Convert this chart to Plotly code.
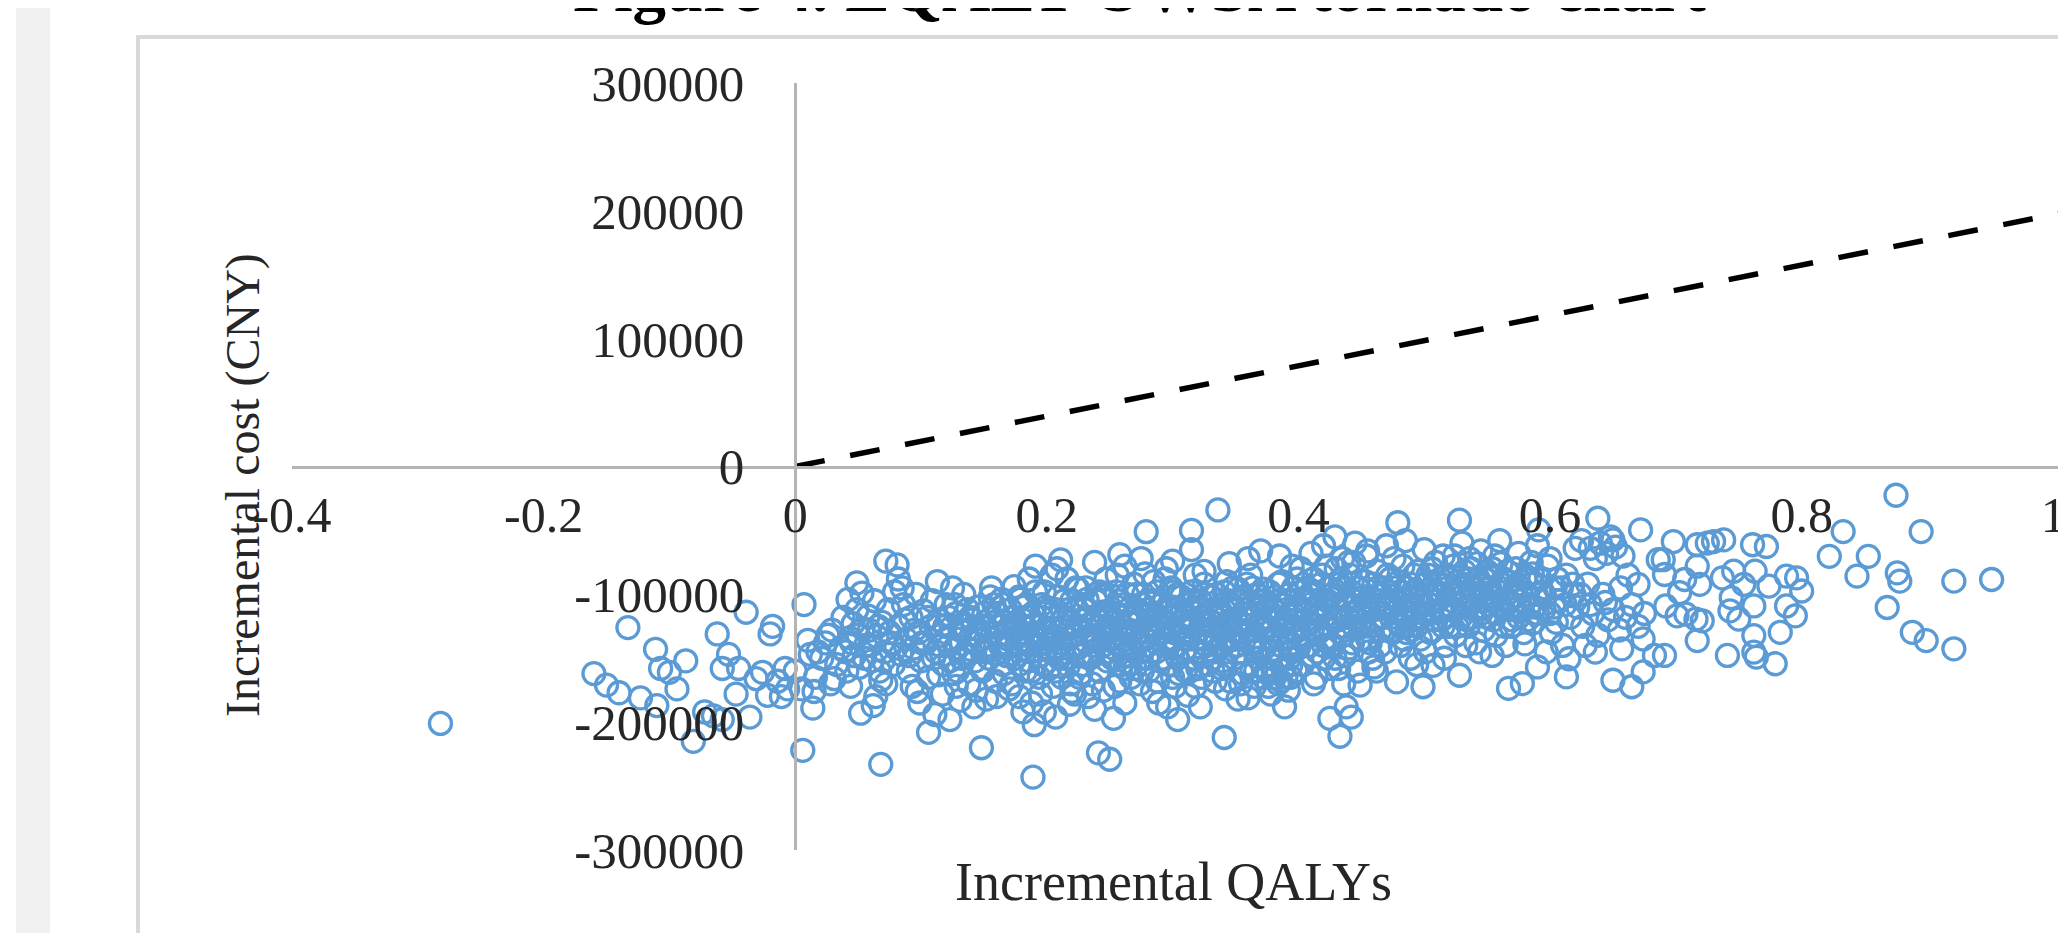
import plotly.graph_objects as go

# ---------------- data ----------------
x_tick_vals = [-0.4, -0.2, 0, 0.2, 0.4, 0.6, 0.8, 1.0]
x_tick_text = ["-0.4", "-0.2", "0", "0.2", "0.4", "0.6", "0.8", "1"]
y_tick_vals = [300000, 200000, 100000, 0, -100000, -200000, -300000]
y_tick_text = ["300000", "200000", "100000", "0", "-100000", "-200000", "-300000"]

# willingness-to-pay threshold line (about 197 000 CNY per QALY)
wtp_qaly = [0, 1.02]
wtp_cost = [0, 200940]

left_tail = [
    (-0.282, -201000), (-0.133, -126000), (-0.111, -143000), (-0.160, -162000), (-0.150, -171000),
    (-0.140, -177000), (-0.123, -181000), (-0.110, -187000), (-0.107, -158000), (-0.100, -161000),
    (-0.087, -152000), (-0.094, -174000), (-0.072, -192000), (-0.081, -215000), (-0.062, -131000),
    (-0.053, -147000), (-0.058, -158000), (-0.045, -158000), (-0.047, -178000), (-0.039, -114000),
    (-0.036, -196000), (-0.058, -198000), (-0.018, -125000), (-0.020, -131000), (-0.026, -161000),
    (-0.022, -179000), (-0.011, -180000), (-0.006, -174000), (-0.008, -158000), (-0.014, -168000),
    (-0.031, -166000), (-0.065, -195000),
]

near_zero = [
    (0.007, -108000), (0.072, -74000), (0.081, -77000), (0.049, -91000), (0.053, -99000),
    (0.042, -104000), (0.082, -88000), (0.113, -90000), (0.006, -222000), (0.068, -233000),
    (0.148, -220000), (0.189, -243000), (0.106, -208000), (0.111, -194000), (0.123, -198000),
    (0.052, -193000), (0.062, -187000), (0.014, -189000), (0.015, -176000), (0.190, -202000),
    (0.198, -192000), (0.207, -196000), (0.181, -192000), (0.191, -78000), (0.211, -73000),
    (0.174, -94000), (0.046, -123000), (0.031, -166000), (0.044, -172000), (0.000, -160000),
    (0.005, -174000), (0.026, -132000), (0.018, -145000), (0.068, -167000), (0.097, -176000),
    (0.114, -163000), (0.131, -183000), (0.170, -174000), (0.220, -176000),
    (0.021, -150000), (0.024, -138000), (0.029, -128000), (0.033, -155000), (0.036, -142000),
    (0.038, -118000), (0.041, -160000), (0.043, -134000), (0.047, -148000), (0.049, -112000),
    (0.051, -157000), (0.054, -127000), (0.012, -147000), (0.016, -165000), (0.010, -136000),
    (0.028, -170000),
    (0.056, -140000), (0.058, -117000), (0.061, -152000), (0.063, -105000), (0.065, -133000),
    (0.067, -160000), (0.069, -122000), (0.071, -145000), (0.074, -112000), (0.076, -138000),
    (0.078, -155000), (0.079, -98000), (0.059, -128000), (0.072, -170000), (0.064, -180000),
    (0.082, -125000), (0.084, -147000), (0.086, -108000), (0.088, -135000), (0.090, -160000),
    (0.092, -118000), (0.094, -142000), (0.096, -100000), (0.098, -130000), (0.100, -152000),
    (0.102, -113000), (0.104, -138000), (0.106, -165000), (0.108, -125000), (0.085, -95000),
    (0.093, -172000), (0.099, -185000), (0.109, -105000),
    (0.112, -145000), (0.114, -120000), (0.116, -132000), (0.118, -155000), (0.120, -108000),
    (0.122, -140000), (0.124, -126000), (0.126, -162000), (0.128, -115000), (0.130, -135000),
    (0.132, -150000), (0.134, -100000), (0.136, -128000), (0.138, -170000), (0.117, -178000),
    (0.125, -95000), (0.139, -143000),
]

low_core = [
    (0.141, -120000), (0.143, -152000), (0.145, -110000), (0.147, -136000), (0.149, -160000),
    (0.151, -125000), (0.153, -145000), (0.155, -102000), (0.157, -130000), (0.159, -168000),
    (0.161, -115000), (0.163, -140000), (0.165, -155000), (0.167, -122000), (0.169, -135000),
    (0.144, -175000), (0.156, -95000), (0.166, -108000), (0.152, -182000), (0.168, -148000),
    (0.171, -112000), (0.173, -128000), (0.175, -150000), (0.177, -138000), (0.179, -104000),
    (0.181, -120000), (0.183, -160000), (0.185, -132000), (0.187, -145000), (0.189, -115000),
    (0.191, -98000), (0.193, -140000), (0.195, -125000), (0.197, -155000), (0.199, -110000),
    (0.172, -170000), (0.186, -88000), (0.194, -165000), (0.178, -180000), (0.188, -185000),
    (0.184, -108000), (0.198, -135000),
    (0.201, -130000), (0.203, -145000), (0.205, -118000), (0.207, -160000), (0.209, -102000),
    (0.211, -138000), (0.213, -125000), (0.215, -150000), (0.217, -112000), (0.219, -170000),
    (0.221, -132000), (0.223, -95000), (0.225, -142000), (0.227, -120000), (0.229, -155000),
    (0.204, -85000), (0.216, -88000), (0.222, -178000), (0.212, -165000), (0.228, -108000),
    (0.208, -80000),
]

mid_core = [
    (0.336, -34000), (0.279, -51000), (0.315, -50000), (0.315, -65000), (0.258, -69000),
    (0.429, -55000), (0.241, -224000), (0.250, -229000), (0.253, -197000), (0.304, -198000),
    (0.341, -212000), (0.433, -211000), (0.425, -197000), (0.438, -188000), (0.442, -196000),
    (0.389, -188000), (0.289, -185000), (0.312, -179000), (0.233, -180000), (0.449, -171000),
    (0.360, -181000), (0.342, -174000),
    (0.238, -75000), (0.262, -78000), (0.275, -72000), (0.295, -80000), (0.300, -74000),
    (0.325, -82000), (0.345, -76000), (0.360, -72000), (0.370, -66000), (0.385, -70000),
    (0.395, -78000), (0.410, -68000), (0.420, -62000), (0.435, -72000), (0.445, -60000),
    (0.455, -66000), (0.430, -80000), (0.440, -75000),
    (0.231, -95000), (0.233, -118000), (0.235, -132000), (0.237, -148000), (0.239, -105000),
    (0.241, -160000), (0.243, -125000), (0.245, -140000), (0.247, -88000), (0.249, -113000),
    (0.236, -170000), (0.244, -100000), (0.248, -152000), (0.232, -138000),
    (0.251, -128000), (0.253, -142000), (0.255, -98000), (0.257, -117000), (0.259, -155000),
    (0.261, -108000), (0.263, -135000), (0.265, -122000), (0.267, -165000), (0.269, -92000),
    (0.254, -172000), (0.262, -148000), (0.268, -130000), (0.256, -85000),
    (0.271, -112000), (0.273, -138000), (0.275, -150000), (0.277, -100000), (0.279, -125000),
    (0.281, -160000), (0.283, -115000), (0.285, -90000), (0.287, -145000), (0.289, -132000),
    (0.274, -170000), (0.282, -105000), (0.288, -168000), (0.278, -84000), (0.286, -120000),
    (0.291, -108000), (0.293, -140000), (0.295, -122000), (0.297, -155000), (0.299, -95000),
    (0.301, -130000), (0.303, -115000), (0.305, -162000), (0.307, -102000), (0.309, -145000),
    (0.294, -88000), (0.302, -172000), (0.308, -125000), (0.296, -135000),
    (0.311, -118000), (0.313, -135000), (0.315, -98000), (0.317, -150000), (0.319, -110000),
    (0.321, -128000), (0.323, -165000), (0.325, -92000), (0.327, -140000), (0.329, -120000),
    (0.314, -160000), (0.322, -105000), (0.328, -155000), (0.318, -85000),
    (0.331, -112000), (0.333, -145000), (0.335, -100000), (0.337, -128000), (0.339, -158000),
    (0.341, -118000), (0.343, -90000), (0.345, -136000), (0.347, -108000), (0.349, -150000),
    (0.334, -168000), (0.342, -125000), (0.348, -95000), (0.338, -140000),
    (0.351, -122000), (0.353, -105000), (0.355, -145000), (0.357, -130000), (0.359, -92000),
    (0.361, -115000), (0.363, -160000), (0.365, -138000), (0.367, -100000), (0.369, -125000),
    (0.354, -170000), (0.362, -85000), (0.368, -150000), (0.358, -112000),
    (0.371, -110000), (0.373, -142000), (0.375, -160000), (0.377, -98000), (0.379, -128000),
    (0.381, -165000), (0.383, -118000), (0.385, -150000), (0.387, -90000), (0.389, -135000),
    (0.376, -172000), (0.384, -105000), (0.374, -125000), (0.388, -158000), (0.380, -145000),
    (0.391, -120000), (0.393, -100000), (0.395, -145000), (0.397, -130000), (0.399, -88000),
    (0.401, -112000), (0.403, -155000), (0.405, -125000), (0.407, -95000), (0.409, -140000),
    (0.394, -165000), (0.402, -80000), (0.408, -108000), (0.396, -115000),
    (0.411, -128000), (0.413, -98000), (0.415, -145000), (0.417, -115000), (0.419, -85000),
    (0.421, -135000), (0.423, -105000), (0.425, -158000), (0.427, -120000), (0.429, -92000),
    (0.414, -165000), (0.422, -78000), (0.428, -140000),
    (0.431, -110000), (0.433, -130000), (0.435, -95000), (0.437, -148000), (0.439, -118000),
    (0.441, -85000), (0.443, -138000), (0.445, -105000), (0.447, -160000), (0.449, -125000),
    (0.436, -170000), (0.444, -75000), (0.448, -95000),
    (0.451, -115000), (0.453, -90000), (0.455, -135000), (0.457, -102000), (0.459, -150000),
    (0.461, -120000), (0.463, -82000), (0.465, -128000), (0.467, -108000), (0.469, -145000),
    (0.454, -70000), (0.462, -160000), (0.468, -95000),
]

dense_core = [
    (0.122, -118000), (0.127, -142000), (0.133, -124000), (0.137, -112000), (0.142, -138000),
    (0.146, -128000), (0.150, -115000), (0.154, -150000), (0.158, -122000), (0.162, -132000),
    (0.164, -104000), (0.168, -142000), (0.170, -126000), (0.174, -118000), (0.176, -140000),
    (0.180, -132000), (0.182, -110000), (0.186, -152000), (0.190, -124000), (0.192, -135000),
    (0.196, -118000), (0.200, -142000), (0.202, -112000), (0.206, -128000), (0.210, -150000),
    (0.214, -118000), (0.218, -135000), (0.220, -105000), (0.224, -125000), (0.226, -148000),
    (0.230, -112000), (0.234, -128000), (0.238, -140000), (0.240, -120000), (0.242, -98000),
    (0.246, -132000), (0.250, -118000), (0.252, -150000), (0.256, -110000), (0.258, -138000),
    (0.260, -125000), (0.264, -100000), (0.266, -142000), (0.270, -118000), (0.272, -130000),
    (0.276, -108000), (0.280, -140000), (0.284, -125000), (0.288, -98000), (0.290, -118000),
    (0.292, -150000), (0.296, -110000), (0.298, -128000), (0.300, -142000), (0.304, -100000),
    (0.306, -122000), (0.310, -135000), (0.312, -108000), (0.316, -125000), (0.320, -145000),
    (0.322, -118000), (0.326, -100000), (0.330, -132000), (0.332, -122000), (0.336, -112000),
    (0.340, -140000), (0.344, -105000), (0.346, -120000), (0.350, -135000), (0.352, -96000),
    (0.356, -115000), (0.360, -128000), (0.364, -108000), (0.366, -145000), (0.370, -120000),
    (0.372, -96000), (0.376, -112000), (0.378, -135000), (0.382, -102000), (0.386, -125000),
    (0.390, -112000), (0.392, -140000), (0.396, -95000), (0.398, -120000), (0.400, -132000),
    (0.404, -105000), (0.406, -115000), (0.410, -122000), (0.412, -88000), (0.416, -130000),
    (0.418, -108000), (0.420, -118000), (0.424, -95000), (0.426, -140000), (0.430, -102000),
    (0.432, -120000), (0.434, -88000), (0.438, -128000), (0.440, -110000), (0.442, -98000),
    (0.446, -118000), (0.450, -135000), (0.452, -102000), (0.456, -112000), (0.458, -125000),
    (0.460, -92000), (0.464, -105000), (0.466, -118000), (0.470, -98000), (0.474, -118000),
    (0.478, -105000), (0.480, -90000), (0.482, -125000), (0.486, -95000), (0.488, -110000),
    (0.490, -128000), (0.492, -85000), (0.496, -102000), (0.498, -118000), (0.500, -92000),
    (0.504, -108000), (0.506, -80000), (0.508, -120000), (0.510, -98000), (0.514, -112000),
    (0.518, -85000), (0.520, -125000), (0.522, -100000), (0.526, -90000), (0.530, -108000),
    (0.532, -82000), (0.534, -120000), (0.538, -95000), (0.540, -112000), (0.542, -76000),
    (0.546, -102000), (0.548, -88000), (0.550, -118000), (0.552, -95000), (0.554, -80000),
    (0.558, -108000), (0.562, -92000), (0.564, -125000), (0.566, -82000), (0.570, -112000),
    (0.572, -95000), (0.576, -105000), (0.580, -88000), (0.582, -120000), (0.586, -92000),
    (0.588, -110000), (0.594, -98000), (0.600, -115000), (0.606, -88000), (0.612, -108000),
    (0.618, -92000), (0.624, -100000), (0.632, -108000),
    (0.205, -172000), (0.226, -165000), (0.245, -175000), (0.258, -168000), (0.270, -158000),
    (0.284, -176000), (0.300, -165000), (0.318, -172000), (0.332, -160000), (0.346, -168000),
    (0.365, -172000), (0.372, -165000), (0.378, -178000), (0.386, -168000), (0.392, -175000),
    (0.398, -160000), (0.412, -170000), (0.420, -150000), (0.432, -158000), (0.456, -145000),
    (0.262, -185000), (0.296, -188000), (0.352, -182000), (0.322, -188000), (0.238, -190000),
    (0.218, -186000), (0.195, -178000), (0.160, -180000), (0.142, -188000), (0.128, -172000),
]

core_fill = [
    (0.131, -128000), (0.135, -146000), (0.139, -118000), (0.143, -131000), (0.148, -158000),
    (0.152, -140000), (0.156, -118000), (0.160, -146000), (0.163, -125000), (0.166, -162000),
    (0.170, -140000), (0.173, -118000), (0.176, -128000), (0.178, -155000), (0.181, -143000),
    (0.183, -126000), (0.186, -117000), (0.188, -160000), (0.191, -132000), (0.194, -148000),
    (0.196, -108000), (0.199, -127000), (0.202, -158000), (0.204, -136000), (0.207, -112000),
    (0.209, -148000), (0.212, -128000), (0.214, -105000), (0.217, -156000), (0.219, -122000),
    (0.222, -140000), (0.224, -112000), (0.227, -162000), (0.229, -130000), (0.232, -104000),
    (0.234, -150000), (0.236, -122000), (0.239, -135000), (0.242, -160000), (0.244, -114000),
    (0.247, -128000), (0.249, -145000), (0.245, -102000), (0.225, -96000), (0.198, -98000),
    (0.178, -102000), (0.158, -108000), (0.138, -136000), (0.149, -145000), (0.213, -142000),
    (0.252, -122000), (0.254, -138000), (0.257, -105000), (0.259, -128000), (0.262, -158000),
    (0.264, -116000), (0.266, -132000), (0.269, -145000), (0.271, -100000), (0.273, -122000),
    (0.276, -160000), (0.278, -135000), (0.280, -112000), (0.283, -145000), (0.285, -128000),
    (0.287, -105000), (0.290, -152000), (0.292, -125000), (0.294, -114000), (0.297, -140000),
    (0.299, -118000), (0.301, -98000), (0.304, -150000), (0.306, -132000), (0.308, -112000),
    (0.311, -142000), (0.313, -122000), (0.316, -105000), (0.318, -135000), (0.320, -158000),
    (0.323, -112000), (0.325, -130000), (0.327, -122000), (0.330, -102000), (0.332, -150000),
    (0.334, -135000), (0.337, -115000), (0.339, -128000), (0.341, -98000), (0.344, -145000),
    (0.346, -125000), (0.348, -112000), (0.351, -140000), (0.353, -130000), (0.355, -102000),
    (0.358, -155000), (0.360, -120000), (0.362, -138000), (0.364, -95000), (0.367, -115000),
    (0.369, -142000), (0.371, -128000), (0.373, -105000), (0.375, -118000), (0.378, -150000),
    (0.380, -112000), (0.382, -132000), (0.384, -92000), (0.386, -140000), (0.389, -122000),
    (0.391, -105000), (0.393, -150000), (0.395, -128000), (0.397, -110000), (0.400, -142000),
    (0.402, -98000), (0.404, -135000), (0.406, -120000), (0.409, -100000), (0.411, -148000),
    (0.413, -115000), (0.415, -128000), (0.418, -92000), (0.420, -140000), (0.422, -112000),
    (0.424, -125000), (0.427, -100000), (0.429, -150000), (0.431, -118000), (0.433, -92000),
    (0.436, -132000), (0.438, -105000), (0.440, -142000), (0.442, -115000), (0.444, -125000),
    (0.447, -95000), (0.449, -110000), (0.380, -160000), (0.372, -158000), (0.390, -165000),
    (0.384, -170000), (0.376, -162000), (0.366, -160000), (0.394, -155000), (0.356, -162000),
    (0.340, -155000), (0.310, -160000), (0.280, -150000), (0.266, -155000), (0.300, -110000),
    (0.452, -125000), (0.455, -105000), (0.457, -138000), (0.460, -112000), (0.463, -95000),
    (0.465, -140000), (0.468, -118000), (0.470, -108000), (0.473, -88000), (0.476, -128000),
    (0.478, -112000), (0.481, -98000), (0.484, -118000), (0.486, -130000), (0.489, -92000),
    (0.492, -110000), (0.494, -125000), (0.497, -100000), (0.500, -115000), (0.503, -85000),
    (0.505, -130000), (0.508, -105000), (0.511, -92000), (0.514, -120000), (0.517, -108000),
    (0.520, -88000), (0.523, -112000), (0.526, -125000), (0.529, -95000), (0.532, -105000),
    (0.535, -88000), (0.538, -118000), (0.541, -100000), (0.544, -92000), (0.547, -110000),
    (0.550, -82000), (0.553, -102000), (0.556, -115000), (0.560, -95000), (0.563, -88000),
    (0.567, -105000), (0.570, -120000), (0.574, -92000), (0.578, -112000), (0.582, -100000),
    (0.586, -84000), (0.590, -115000), (0.596, -102000), (0.603, -110000), (0.609, -95000),
    (0.040, -145000), (0.045, -138000), (0.050, -132000), (0.055, -150000), (0.060, -140000),
    (0.066, -125000), (0.070, -152000), (0.075, -130000), (0.080, -142000), (0.087, -120000),
    (0.091, -148000), (0.095, -128000), (0.101, -138000), (0.105, -118000), (0.110, -150000),
    (0.115, -140000), (0.119, -125000), (0.123, -152000), (0.127, -108000), (0.129, -160000),
]

high_core = [
    (0.479, -44000), (0.528, -42000), (0.638, -40500), (0.672, -49600), (0.650, -57400),
    (0.591, -49600), (0.478, -168500), (0.499, -172300), (0.528, -163300), (0.567, -173600),
    (0.578, -169800), (0.590, -156800), (0.613, -164600), (0.615, -150400), (0.650, -167200),
    (0.665, -172300), (0.674, -160700), (0.674, -134900), (0.657, -142600), (0.636, -145200),
    (0.683, -147800), (0.670, -92200), (0.686, -72900), (0.644, -106400), (0.605, -121900),
    (0.580, -138800), (0.554, -147800), (0.460, -156800), (0.507, -155600), (0.533, -140100),
    (0.470, -62000), (0.485, -58000), (0.500, -65000), (0.515, -70000), (0.530, -60000),
    (0.545, -66000), (0.560, -58000), (0.575, -68000), (0.590, -62000), (0.600, -72000),
    (0.620, -64000),
    (0.625, -58000), (0.632, -64000), (0.640, -60000), (0.645, -68000), (0.652, -63000),
    (0.658, -70000), (0.636, -72000), (0.648, -55000),
    (0.471, -85000), (0.473, -110000), (0.475, -130000), (0.477, -95000), (0.479, -122000),
    (0.481, -140000), (0.483, -78000), (0.485, -105000), (0.487, -118000), (0.489, -150000),
    (0.476, -72000), (0.484, -135000),
    (0.491, -98000), (0.493, -120000), (0.495, -82000), (0.497, -135000), (0.499, -108000),
    (0.501, -145000), (0.503, -90000), (0.505, -115000), (0.507, -128000), (0.509, -75000),
    (0.494, -155000), (0.502, -100000),
    (0.511, -105000), (0.513, -88000), (0.515, -125000), (0.517, -140000), (0.519, -95000),
    (0.521, -112000), (0.523, -78000), (0.525, -132000), (0.527, -100000), (0.529, -118000),
    (0.516, -150000), (0.524, -70000),
    (0.531, -92000), (0.533, -110000), (0.535, -125000), (0.537, -80000), (0.539, -102000),
    (0.541, -138000), (0.543, -88000), (0.545, -115000), (0.547, -128000), (0.549, -96000),
    (0.536, -72000), (0.544, -145000),
    (0.551, -108000), (0.553, -85000), (0.555, -120000), (0.557, -132000), (0.559, -98000),
    (0.561, -76000), (0.563, -112000), (0.565, -140000), (0.567, -90000), (0.569, -125000),
    (0.556, -70000),
    (0.571, -102000), (0.573, -80000), (0.575, -118000), (0.577, -95000), (0.579, -130000),
    (0.581, -86000), (0.583, -110000), (0.585, -75000), (0.587, -122000), (0.589, -100000),
    (0.592, -88000), (0.595, -112000), (0.598, -78000), (0.601, -130000), (0.604, -95000),
    (0.607, -105000), (0.610, -140000), (0.613, -85000), (0.616, -118000), (0.619, -100000),
    (0.597, -145000),
    (0.622, -110000), (0.626, -125000), (0.630, -92000), (0.634, -115000), (0.638, -132000),
    (0.642, -100000), (0.646, -120000), (0.650, -112000), (0.655, -128000), (0.660, -118000),
    (0.665, -108000), (0.670, -125000), (0.628, -140000), (0.675, -115000), (0.662, -85000),
    (0.656, -95000),
]

right_tail = [
    (0.698, -58700), (0.717, -61200), (0.725, -59900), (0.730, -58700), (0.738, -57400),
    (0.761, -61200), (0.772, -62600), (0.875, -22500), (0.833, -50900), (0.895, -50900),
    (0.822, -70300), (0.853, -70300), (0.844, -85800), (0.876, -83200), (0.878, -89700),
    (0.921, -89700), (0.951, -88400), (0.868, -110300), (0.888, -129700), (0.899, -136200),
    (0.921, -142600), (0.690, -72900), (0.717, -78000), (0.746, -81900), (0.763, -81900),
    (0.788, -85800), (0.796, -87100), (0.800, -97400), (0.774, -93600), (0.754, -92200),
    (0.737, -87100), (0.707, -88400), (0.691, -84500), (0.703, -98700), (0.719, -92200),
    (0.744, -102600), (0.762, -109100), (0.788, -109100), (0.795, -116800), (0.743, -112900),
    (0.750, -119400), (0.692, -109100), (0.708, -115500), (0.721, -120700), (0.716, -119400),
    (0.701, -116800), (0.717, -136200), (0.762, -132300), (0.783, -129700), (0.741, -147800),
    (0.762, -145200), (0.764, -149100), (0.779, -154300), (0.691, -147800),
]

groups = [left_tail, near_zero, low_core, mid_core, dense_core, core_fill, high_core, right_tail]
inc_qaly = [p[0] for g in groups for p in g]
inc_cost = [p[1] for g in groups for p in g]

# ---------------- figure ----------------
W, H = 2066, 933
ML, MR, MT, MB = 284, 0, 75, 91
X_RANGE = [-0.4, 1.0165]
Y_RANGE = [-300000, 300000]
plot_w = W - ML - MR
plot_h = H - MT - MB

def px_x(px):
    return (px - ML) / plot_w

def px_y(py):
    return (H - MB - py) / plot_h

serif = "Liberation Serif"
txt = "#262626"
axis_col = "#b4b4b4"

fig = go.Figure()
fig.add_trace(go.Scatter(
    x=inc_qaly, y=inc_cost, mode="markers",
    marker=dict(symbol="circle-open", size=22, color="#5B9BD5",
                line=dict(width=3.3, color="#5B9BD5")),
    showlegend=False, hoverinfo="skip",
))
fig.add_trace(go.Scatter(
    x=wtp_qaly, y=wtp_cost, mode="lines",
    line=dict(color="black", width=5.5, dash="30px,26px"),
    showlegend=False, hoverinfo="skip",
))

fig.update_layout(
    width=W, height=H,
    margin=dict(l=ML, r=MR, t=MT, b=MB, pad=0),
    paper_bgcolor="white", plot_bgcolor="white",
    xaxis=dict(
        range=X_RANGE, anchor="free",
        position=(0 - Y_RANGE[0]) / (Y_RANGE[1] - Y_RANGE[0]),
        showline=True, linecolor=axis_col, linewidth=2.5,
        showgrid=False, zeroline=False, ticks="", ticklen=0,
        tickvals=x_tick_vals, ticktext=x_tick_text,
        tickfont=dict(family=serif, size=50, color=txt),
        ticklabelstandoff=4, automargin=False, fixedrange=True,
    ),
    yaxis=dict(
        range=Y_RANGE, anchor="free",
        position=(0 - X_RANGE[0]) / (X_RANGE[1] - X_RANGE[0]),
        showline=True, linecolor=axis_col, linewidth=2.5,
        showgrid=False, zeroline=False, ticks="", ticklen=0,
        tickvals=y_tick_vals, ticktext=y_tick_text,
        tickfont=dict(family=serif, size=51, color=txt),
        ticklabelstandoff=40, automargin=False, fixedrange=True,
    ),
    shapes=[
        dict(type="rect", xref="paper", yref="paper",
             x0=px_x(8), x1=px_x(42), y0=-0.3, y1=1.3,
             fillcolor="#f0f0f0", line=dict(width=0), layer="below"),
        dict(type="rect", xref="paper", yref="paper",
             x0=px_x(130), x1=1.2, y0=-0.3, y1=px_y(29),
             fillcolor="rgba(0,0,0,0)", line=dict(color="#d9d9d9", width=4), layer="below"),
    ],
    annotations=[
        dict(text="<b>Figure 4. EQALY OWSA tornado chart</b>", xref="paper", yref="paper",
             x=px_x(1132), y=px_y(19), xanchor="center", yanchor="bottom", showarrow=False,
             font=dict(family=serif, size=67, color="black")),
        dict(text="Incremental cost (CNY)", xref="paper", yref="paper",
             x=px_x(235), y=px_y(477), xanchor="center", yanchor="middle", textangle=-90,
             showarrow=False, font=dict(family=serif, size=48, color=txt)),
        dict(text="Incremental QALYs", xref="paper", yref="paper",
             x=px_x(1165), y=px_y(874), xanchor="center", yanchor="middle",
             showarrow=False, font=dict(family=serif, size=54, color=txt)),
    ],
)

fig.write_html("out.html")
